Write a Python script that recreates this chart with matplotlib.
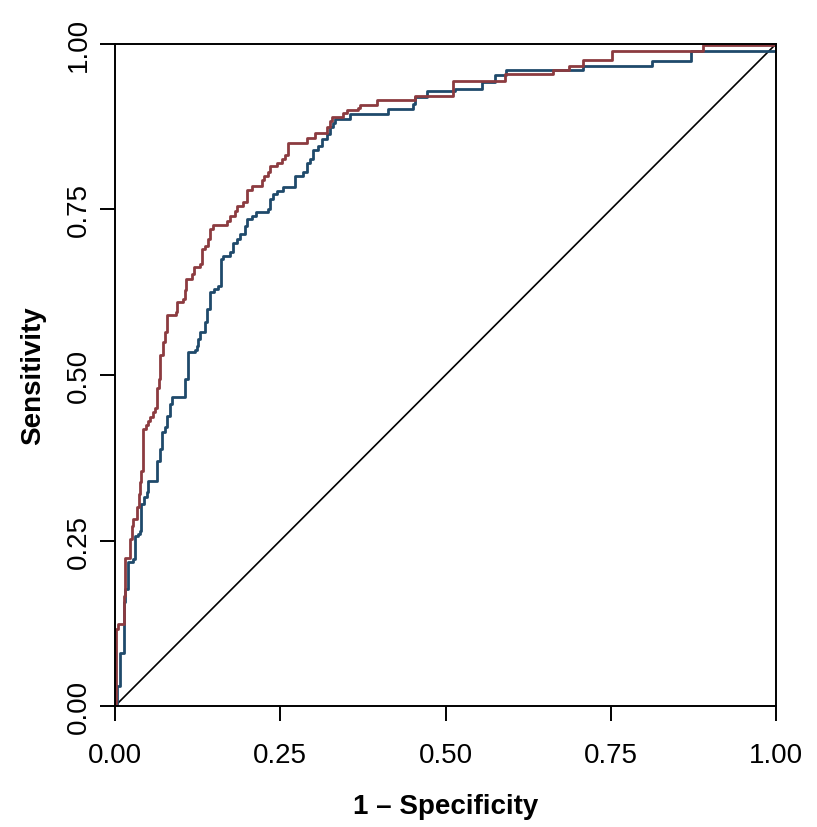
import matplotlib
matplotlib.use('Agg')
import matplotlib.pyplot as plt

RED = '#8c3b40'
BLUE = '#1f4a6b'

# ROC points (fpr, tpr); drawn as steps
red_fpr = [0.0, 0.002, 0.005, 0.013, 0.015, 0.023, 0.025, 0.027, 0.033, 0.036,
           0.038, 0.040, 0.043, 0.047, 0.050, 0.053, 0.057, 0.061, 0.063, 0.066,
           0.068, 0.073, 0.076, 0.079, 0.092, 0.094, 0.103, 0.106, 0.108, 0.116,
           0.119, 0.129, 0.131, 0.136, 0.141, 0.144, 0.148, 0.169, 0.174, 0.182,
           0.184, 0.194, 0.199, 0.207, 0.222, 0.225, 0.231, 0.234, 0.245, 0.252,
           0.257, 0.262, 0.290, 0.303, 0.321, 0.325, 0.329, 0.345, 0.351, 0.368,
           0.371, 0.396, 0.454, 0.511, 0.590, 0.663, 0.687, 0.708, 0.752, 0.890,
           1.0]
red_tpr = [0.0, 0.116, 0.124, 0.166, 0.224, 0.252, 0.272, 0.282, 0.300, 0.320,
           0.338, 0.355, 0.418, 0.425, 0.430, 0.437, 0.444, 0.450, 0.480, 0.494,
           0.530, 0.550, 0.565, 0.590, 0.595, 0.610, 0.615, 0.628, 0.645, 0.652,
           0.663, 0.668, 0.690, 0.695, 0.705, 0.720, 0.726, 0.732, 0.740, 0.748,
           0.755, 0.762, 0.780, 0.785, 0.795, 0.800, 0.807, 0.815, 0.820, 0.826,
           0.832, 0.850, 0.858, 0.866, 0.875, 0.884, 0.890, 0.895, 0.900, 0.904,
           0.908, 0.915, 0.921, 0.944, 0.955, 0.961, 0.967, 0.976, 0.989, 0.998,
           1.0]

blue_fpr = [0.0, 0.003, 0.008, 0.013, 0.015, 0.020, 0.027, 0.030, 0.035, 0.038,
            0.040, 0.044, 0.048, 0.050, 0.063, 0.068, 0.071, 0.076, 0.078, 0.083,
            0.086, 0.106, 0.111, 0.121, 0.124, 0.126, 0.129, 0.136, 0.139, 0.144,
            0.150, 0.156, 0.161, 0.163, 0.174, 0.179, 0.184, 0.189, 0.197, 0.199,
            0.207, 0.214, 0.232, 0.234, 0.239, 0.245, 0.254, 0.272, 0.284, 0.290,
            0.295, 0.300, 0.307, 0.313, 0.320, 0.325, 0.330, 0.333, 0.356, 0.413,
            0.451, 0.454, 0.472, 0.514, 0.555, 0.575, 0.592, 0.708, 0.812, 0.871,
            1.0]
blue_tpr = [0.0, 0.030, 0.080, 0.157, 0.177, 0.217, 0.222, 0.257, 0.260, 0.265,
            0.305, 0.315, 0.323, 0.340, 0.370, 0.388, 0.414, 0.421, 0.438, 0.456,
            0.467, 0.494, 0.535, 0.538, 0.544, 0.554, 0.565, 0.580, 0.600, 0.625,
            0.630, 0.634, 0.675, 0.680, 0.686, 0.700, 0.705, 0.713, 0.725, 0.735,
            0.740, 0.746, 0.750, 0.766, 0.773, 0.778, 0.784, 0.800, 0.806, 0.820,
            0.826, 0.840, 0.846, 0.856, 0.864, 0.875, 0.880, 0.887, 0.894, 0.902,
            0.910, 0.920, 0.929, 0.932, 0.943, 0.953, 0.960, 0.967, 0.975, 0.989,
            1.0]

ticks = [0.0, 0.25, 0.5, 0.75, 1.0]
tick_labels = ['0.00', '0.25', '0.50', '0.75', '1.00']

plt.rcParams['font.family'] = ['Liberation Sans', 'DejaVu Sans']

fig = plt.figure(figsize=(8.17, 8.28), dpi=100)
ax = fig.add_axes([0.1408, 0.1461, 0.8090, 0.7996])

ax.plot([0, 1], [0, 1], color='black', lw=1.2)
ax.plot(blue_fpr, blue_tpr, drawstyle='steps-post', color=BLUE, lw=2.0)
ax.plot(red_fpr, red_tpr, drawstyle='steps-post', color=RED, lw=2.0)

ax.set_xlim(0, 1)
ax.set_ylim(0, 1)
for s in ax.spines.values():
    s.set_linewidth(1.4)

ax.set_xticks(ticks)
ax.set_xticklabels(tick_labels, fontsize=20)
ax.set_yticks(ticks)
ax.set_yticklabels(tick_labels, fontsize=20, rotation=90, va='center')
ax.tick_params(axis='x', length=11, width=1.4, pad=15, direction='out')
ax.tick_params(axis='y', length=11, width=1.4, pad=6, direction='out')

ax.set_xlabel('1 \u2013 Specificity', fontsize=20, fontweight='bold', labelpad=18)
ax.set_ylabel('Sensitivity', fontsize=20, fontweight='bold', labelpad=14)

fig.savefig('out.png', dpi=100, facecolor='white')
